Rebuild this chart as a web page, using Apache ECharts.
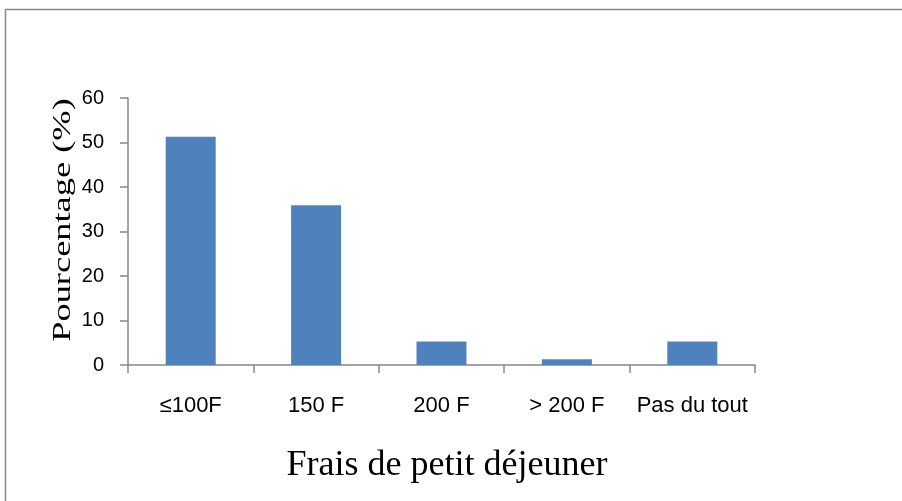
<!DOCTYPE html>
<html>
<head>
<meta charset="utf-8">
<script src="https://cdn.jsdelivr.net/npm/echarts@6/dist/echarts.min.js"></script>
<style>
  html, body { margin: 0; padding: 0; background: #fff; }
  #main { width: 902px; height: 501px; }
</style>
</head>
<body>
<div id="main"></div>
<script>
// catégories de frais et pourcentages
var categories = ["≤100F", "150 F", "200 F", "> 200 F", "Pas du tout"];
var pourcentages = [51.3, 35.9, 5.3, 1.3, 5.3];
var yTicks = [0, 10, 20, 30, 40, 50, 60];

var myChart = echarts.init(document.getElementById("main"));
myChart.setOption({
  animation: false,
  backgroundColor: "#fff",
  grid: { left: 128, right: 147, top: 98, bottom: 136 },
  xAxis: {
    type: "category",
    data: categories,
    axisLine: { lineStyle: { color: "#868686", width: 1.5 } },
    axisTick: { show: true, interval: 0, length: 8, lineStyle: { color: "#868686", width: 1.5 } },
    axisLabel: {
      interval: 0,
      color: "#000",
      fontFamily: "Liberation Sans",
      fontSize: 22,
      margin: 30,
    },
  },
  yAxis: {
    type: "value",
    min: yTicks[0],
    max: yTicks[yTicks.length - 1],
    interval: 10,
    splitLine: { show: false },
    axisLine: { show: true, lineStyle: { color: "#868686", width: 1.5 } },
    axisTick: { show: true, length: 8, lineStyle: { color: "#868686", width: 1.5 } },
    axisLabel: {
      color: "#000",
      fontFamily: "Liberation Sans",
      fontSize: 20,
      margin: 24,
    },
  },
  graphic: [
    // cadre du graphique
    {
      type: "rect",
      shape: { x: 5.5, y: 9.5, width: 1000, height: 1000 },
      style: { fill: "none", stroke: "#898989", lineWidth: 1.5 },
      z: 0,
    },
    {
      type: "text",
      x: 63,
      y: 220,
      rotation: Math.PI / 2,
      scaleX: 1.4,
      style: {
        text: "Pourcentage (%)",
        font: "26px 'Liberation Serif'",
        fill: "#000",
        align: "center",
        verticalAlign: "middle",
      },
      z: 10,
    },
    {
      type: "text",
      x: 447,
      y: 466,
      style: {
        text: "Frais de petit déjeuner",
        font: "36px 'Liberation Serif'",
        fill: "#000",
        align: "center",
        verticalAlign: "middle",
      },
      z: 10,
    },
  ],
  series: [
    {
      type: "bar",
      data: pourcentages,
      barWidth: 50,
      itemStyle: { color: "#4f81bd" },
    },
  ],
});
</script>
</body>
</html>
